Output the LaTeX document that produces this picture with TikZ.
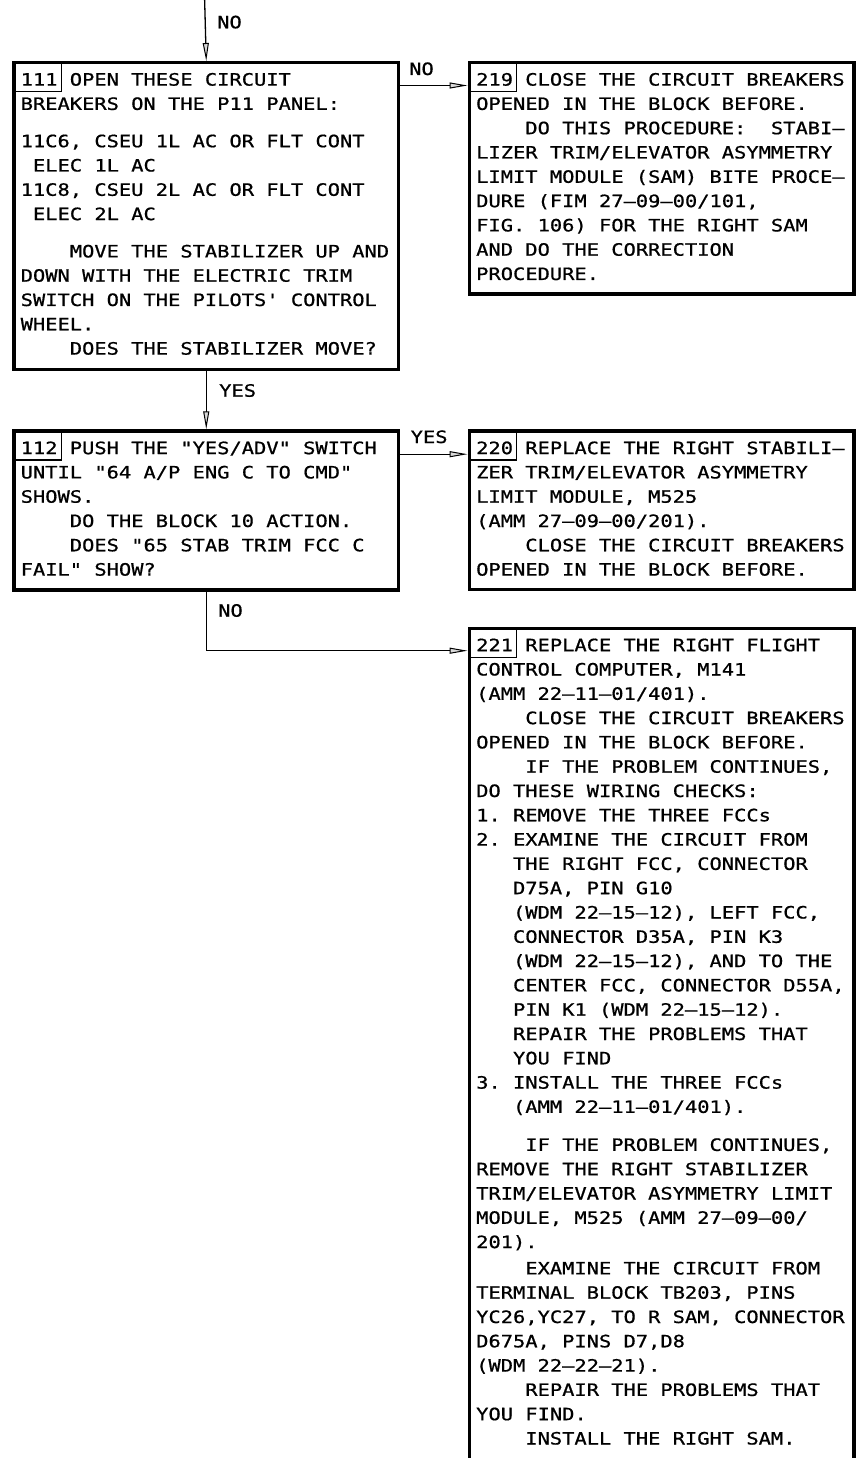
\documentclass[tikz,border=0pt]{standalone}
\usepackage{fontspec}
\newfontfamily\mono[FakeStretch=1.2,FakeBold=0.8]{DejaVu Sans Mono}
\usetikzlibrary{arrows.meta}
\newcommand\pIV{\phantom{XXXX}}
\newcommand\pIII{\phantom{XXX}}
\newcommand\pI{\phantom{X}}
\begin{document}
\frenchspacing
\begin{tikzpicture}[x=1pt,y=-1pt,
  txt/.style={font=\mono\fontsize{17}{24.3}\selectfont\frenchspacing, inner sep=0, anchor=base west},
  blk/.style={draw, line width=3.5pt, inner sep=0, anchor=north west},
  numbox/.style={line width=1.1pt},
  arr/.style={line width=1.3pt, -{Triangle[length=18pt,width=6pt,fill=gray!30,line width=1pt]}}]
\useasboundingbox (0,0) rectangle (858,1458);

% boxes
\node[blk, minimum width=384.4pt, minimum height=306.5pt] (b111) at (12.3,61) {};
\node[blk, minimum width=384.5pt, minimum height=231.3pt] (b219) at (467.5,61) {};
\node[blk, minimum width=384.4pt, minimum height=158.7pt] (b112) at (12.3,429.3) {};
\node[blk, minimum width=384.5pt, minimum height=158.5pt] (b220) at (467.5,429.3) {};
\node[blk, minimum width=384.5pt, minimum height=860pt] (b221) at (467.5,626.7) {};

% number boxes
\foreach \b in {b111,b219,b112,b220,b221}
  \draw[numbox] ([shift={(1.7,1.7)}]\b.north west) rectangle ++(47.7,29);

% texts
\node[txt] (t111) at (20.5,85.6) {\begin{tabular}[t]{@{}l@{}}
111 OPEN THESE CIRCUIT\\
BREAKERS ON THE P11 PANEL:\\[13pt]
11C6, CSEU 1L AC OR FLT CONT\\
\pI ELEC 1L AC\\
11C8, CSEU 2L AC OR FLT CONT\\
\pI ELEC 2L AC\\[13pt]
\pIV MOVE THE STABILIZER UP AND\\
DOWN WITH THE ELECTRIC TRIM\\
SWITCH ON THE PILOTS' CONTROL\\
WHEEL.\\
\pIV DOES THE STABILIZER MOVE?
\end{tabular}};

\node[txt] (t219) at (476,85.6) {\begin{tabular}[t]{@{}l@{}}
219 CLOSE THE CIRCUIT BREAKERS\\
OPENED IN THE BLOCK BEFORE.\\
\pIV DO THIS PROCEDURE:\pI\ STABI–\\
LIZER TRIM/ELEVATOR ASYMMETRY\\
LIMIT MODULE (SAM) BITE PROCE–\\
DURE (FIM 27–09–00/101,\\
FIG. 106) FOR THE RIGHT SAM\\
AND DO THE CORRECTION\\
PROCEDURE.
\end{tabular}};

\node[txt] (t112) at (20.5,454.1) {\begin{tabular}[t]{@{}l@{}}
112 PUSH THE "YES/ADV" SWITCH\\
UNTIL "64 A/P ENG C TO CMD"\\
SHOWS.\\
\pIV DO THE BLOCK 10 ACTION.\\
\pIV DOES "65 STAB TRIM FCC C\\
FAIL" SHOW?
\end{tabular}};

\node[txt] (t220) at (476,454.1) {\begin{tabular}[t]{@{}l@{}}
220 REPLACE THE RIGHT STABILI–\\
ZER TRIM/ELEVATOR ASYMMETRY\\
LIMIT MODULE, M525\\
(AMM 27–09–00/201).\\
\pIV CLOSE THE CIRCUIT BREAKERS\\
OPENED IN THE BLOCK BEFORE.
\end{tabular}};

\node[txt] (t221) at (476,651.2) {\begin{tabular}[t]{@{}l@{}}
221 REPLACE THE RIGHT FLIGHT\\
CONTROL COMPUTER, M141\\
(AMM 22–11–01/401).\\
\pIV CLOSE THE CIRCUIT BREAKERS\\
OPENED IN THE BLOCK BEFORE.\\
\pIV IF THE PROBLEM CONTINUES,\\
DO THESE WIRING CHECKS:\\
1. REMOVE THE THREE FCCs\\
2. EXAMINE THE CIRCUIT FROM\\
\pIII THE RIGHT FCC, CONNECTOR\\
\pIII D75A, PIN G10\\
\pIII (WDM 22–15–12), LEFT FCC,\\
\pIII CONNECTOR D35A, PIN K3\\
\pIII (WDM 22–15–12), AND TO THE\\
\pIII CENTER FCC, CONNECTOR D55A,\\
\pIII PIN K1 (WDM 22–15–12).\\
\pIII REPAIR THE PROBLEMS THAT\\
\pIII YOU FIND\\
3. INSTALL THE THREE FCCs\\
\pIII (AMM 22–11–01/401).\\[13.7pt]
\pIV IF THE PROBLEM CONTINUES,\\
REMOVE THE RIGHT STABILIZER\\
TRIM/ELEVATOR ASYMMETRY LIMIT\\
MODULE, M525 (AMM 27–09–00/\\
201).\\[2pt]
\pIV EXAMINE THE CIRCUIT FROM\\
TERMINAL BLOCK TB203, PINS\\
YC26,YC27, TO R SAM, CONNECTOR\\
D675A, PINS D7,D8\\
(WDM 22–22–21).\\
\pIV REPAIR THE PROBLEMS THAT\\
YOU FIND.\\
\pIV INSTALL THE RIGHT SAM.
\end{tabular}};

% connectors
\coordinate (top) at (204.5,-5);
\coordinate (y1) at (0,85.5);
\coordinate (y2) at (0,454.2);
\coordinate (y3) at (0,650.7);
\draw[arr] (top) -- (b111.north);
\draw[arr] (b111.east |- y1) -- (b219.west |- y1);
\draw[arr] (b111.south) -- (b112.north);
\draw[arr] (b112.east |- y2) -- (b220.west |- y2);
\draw[arr] (b112.south) |- (b221.west |- y3);

% labels
\node[txt] (l1) at (217,28.3) {NO};
\node[txt] (l2) at (409,75) {NO};
\node[txt] (l3) at (219,396.7) {YES};
\node[txt] (l4) at (410.5,443) {YES};
\node[txt] (l5) at (218,616.7) {NO};
\end{tikzpicture}
\end{document}
